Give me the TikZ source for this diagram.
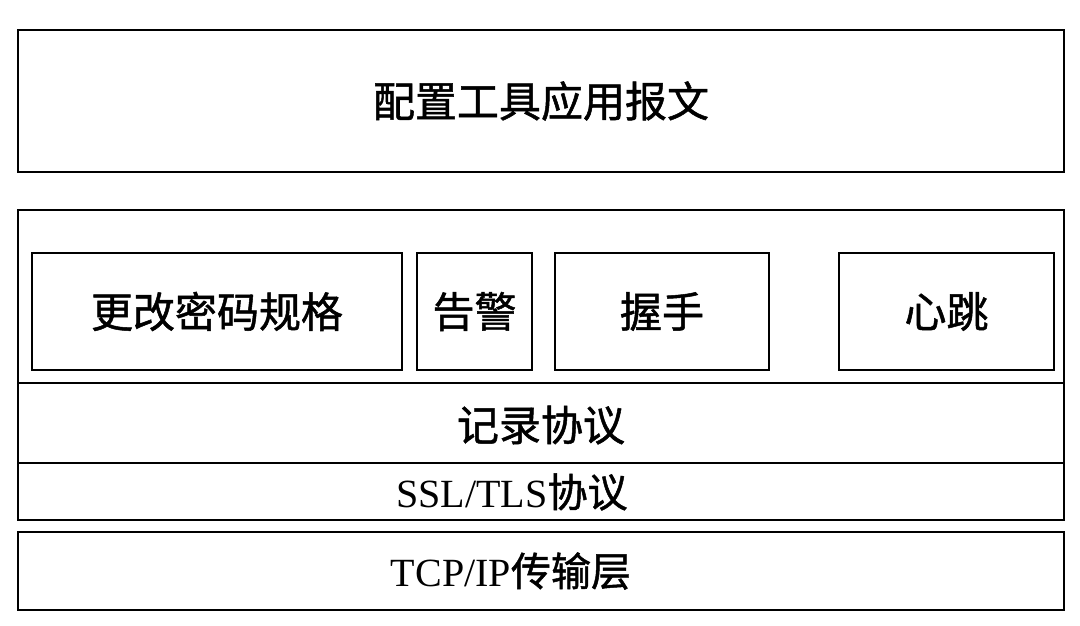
\documentclass[tikz,border=0pt]{standalone}
\usepackage{fontspec}
\setmainfont{Liberation Serif}
\newfontfamily\cjk[FakeBold=1.2]{Noto Sans CJK SC}
\begin{document}
\begin{tikzpicture}[x=1pt,y=-1pt,
  box/.style={draw,line width=2.4pt,inner sep=0pt},
  lbl/.style={font=\fontsize{42}{46}\selectfont\cjk},
  lat/.style={font=\fontsize{40}{44}\selectfont}]
\useasboundingbox (0,0) rectangle (1080,625);
\node[box,minimum width=1046pt,minimum height=142pt,lbl] (app) at (541,101) {配置工具应用报文};
\draw[line width=2.4pt] (18,210) rectangle (1064,520);
\draw[line width=2.4pt] (18,383) -- (1064,383);
\draw[line width=2.4pt] (18,463) -- (1064,463);
\node[box,minimum width=370pt,minimum height=117pt,lbl] (ccs) at (217,311.5) {更改密码规格};
\node[box,minimum width=115pt,minimum height=117pt,lbl] (alert) at (474.5,311.5) {告警};
\node[box,minimum width=214pt,minimum height=117pt,lbl] (hs) at (662,311.5) {握手};
\node[box,minimum width=215pt,minimum height=117pt,lbl] (hb) at (946.5,311.5) {心跳};
\node[lbl] (rec) at (541,425) {记录协议};
\node[lat] (ssl) at (512,492) {SSL/TLS{\fontsize{40}{44}\selectfont\cjk 协议}};
\node[box,minimum width=1046pt,minimum height=78pt] (tcp) at (541,571) {};
\node[lat] (tcptext) at (511,571) {TCP/IP{\fontsize{40}{44}\selectfont\cjk 传输层}};
\end{tikzpicture}
\end{document}
